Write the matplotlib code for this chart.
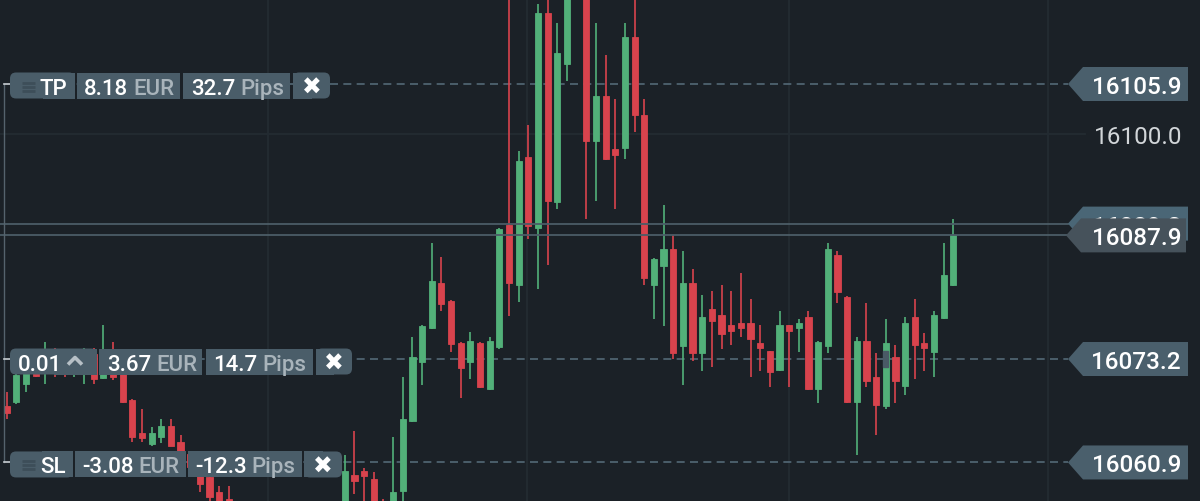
import matplotlib
matplotlib.use("Agg")
import matplotlib.pyplot as plt
from matplotlib.patches import FancyBboxPatch, Polygon, Rectangle
import numpy as np

# ---------------- data (prices) ----------------
opens = [16067.6, 16068.1, 16070.2, 16071.8, 16072.0, 16073.5, 16073.0, 16071.8, 16071.8, 16073.8,
         16070.9, 16074.4, 16072.0, 16068.3, 16064.4, 16063.1, 16063.9, 16065.2, 16063.3, 16061.9,
         16060.1, 16059.2, 16057.4, 16056.5, 16054.8, 16053.5, 16052.0, 16052.8, 16051.0, 16050.2,
         16051.5, 16052.6, 16051.8, 16053.6, 16054.8, 16054.5, 16059.4, 16059.9, 16058.9, 16056.0,
         16055.0, 16057.5, 16065.8, 16072.8, 16076.9, 16082.2, 16080.1, 16075.1, 16072.8, 16075.1,
         16069.6, 16074.6, 16089.1, 16082.0, 16097.2, 16088.8, 16114.3, 16091.9, 16108.3, 16119.0,
         16117.5, 16099.1, 16104.5, 16098.2, 16098.3, 16111.5, 16102.2, 16082.0, 16084.3, 16086.3,
         16074.7, 16082.2, 16073.9, 16079.1, 16078.4, 16077.2, 16077.5, 16077.5, 16075.1, 16074.1,
         16071.9, 16077.2, 16076.9, 16078.2, 16069.6, 16074.7, 16085.6, 16080.6, 16068.1, 16075.3,
         16071.1, 16067.6, 16073.4, 16070.0, 16078.2, 16075.1, 16074.0, 16078.1, 16082.0]
highs = [16069.3, 16071.5, 16073.2, 16072.2, 16075.2, 16074.5, 16073.8, 16073.2, 16074.5, 16074.5,
         16077.2, 16075.2, 16072.2, 16068.4, 16067.2, 16065.1, 16066.1, 16066.1, 16064.2, 16062.3,
         16060.7, 16059.9, 16058.1, 16058.1, 16055.5, 16054.2, 16053.6, 16053.4, 16051.8, 16052.3,
         16053.4, 16053.5, 16054.5, 16055.6, 16055.8, 16061.8, 16064.6, 16060.2, 16059.8, 16056.5,
         16063.9, 16071.1, 16075.8, 16077.2, 16087.0, 16085.3, 16080.2, 16075.2, 16076.4, 16075.2,
         16075.8, 16088.8, 16117.0, 16097.9, 16101.0, 16115.4, 16117.0, 16113.2, 16119.0, 16120.0,
         16118.0, 16113.2, 16109.4, 16104.1, 16113.2, 16116.5, 16104.1, 16085.2, 16091.5, 16087.9,
         16086.0, 16083.9, 16080.8, 16081.3, 16082.0, 16081.3, 16083.4, 16080.3, 16077.2, 16074.2,
         16078.9, 16077.3, 16077.9, 16078.9, 16075.3, 16087.0, 16086.0, 16080.7, 16075.8, 16079.9,
         16073.9, 16077.9, 16074.9, 16078.2, 16080.3, 16076.3, 16078.9, 16087.0, 16089.8]
lows = [16066.1, 16067.8, 16069.3, 16071.1, 16070.2, 16071.1, 16071.1, 16071.1, 16070.2, 16070.2,
        16070.8, 16070.7, 16068.0, 16063.3, 16063.3, 16062.8, 16063.2, 16062.8, 16061.3, 16059.9,
        16057.4, 16056.0, 16054.8, 16054.2, 16052.8, 16051.3, 16051.2, 16050.3, 16049.5, 16049.6,
        16050.9, 16051.0, 16051.2, 16053.0, 16053.2, 16053.8, 16057.1, 16055.8, 16055.0, 16054.5,
        16054.5, 16055.5, 16065.7, 16070.1, 16076.8, 16078.9, 16074.0, 16068.6, 16070.8, 16069.8,
        16069.5, 16074.4, 16078.3, 16080.0, 16087.5, 16081.5, 16084.4, 16091.0, 16106.3, 16116.3,
        16089.8, 16092.0, 16096.9, 16091.0, 16097.0, 16100.2, 16082.0, 16077.9, 16077.1, 16073.2,
        16070.1, 16073.0, 16071.8, 16072.2, 16074.4, 16074.9, 16075.8, 16071.1, 16071.8, 16069.9,
        16071.8, 16069.9, 16074.0, 16069.5, 16068.0, 16073.9, 16079.9, 16068.0, 16061.8, 16069.9,
        16064.2, 16067.2, 16068.0, 16068.9, 16070.8, 16071.8, 16071.1, 16078.0, 16081.9]
closes = [16066.8, 16071.3, 16072.2, 16071.2, 16073.7, 16072.2, 16072.0, 16072.6, 16073.8, 16070.8,
          16074.1, 16071.1, 16068.1, 16063.9, 16063.8, 16064.4, 16065.2, 16062.9, 16061.5, 16060.4,
          16058.3, 16056.8, 16055.4, 16054.8, 16053.5, 16052.0, 16052.8, 16051.0, 16050.2, 16051.5,
          16052.6, 16051.8, 16053.6, 16054.8, 16054.0, 16059.9, 16058.7, 16059.3, 16055.5, 16055.2,
          16057.4, 16066.1, 16073.4, 16077.1, 16082.5, 16079.7, 16075.0, 16072.1, 16075.3, 16069.9,
          16075.3, 16088.7, 16082.2, 16096.7, 16089.0, 16114.3, 16092.0, 16109.6, 16118.0, 16117.0,
          16099.1, 16104.5, 16097.0, 16097.5, 16111.5, 16102.2, 16082.8, 16085.1, 16086.3, 16073.9,
          16082.2, 16073.9, 16078.2, 16077.7, 16076.2, 16076.5, 16076.9, 16075.6, 16074.5, 16071.6,
          16077.2, 16076.5, 16077.5, 16069.6, 16075.2, 16086.3, 16081.2, 16068.1, 16075.3, 16070.6,
          16067.7, 16075.1, 16070.6, 16077.5, 16074.9, 16074.5, 16078.4, 16083.2, 16087.9]

tp_price = 16105.9
entry_price = 16073.2
sl_price = 16060.9
ask_price = 16089.3
bid_price = 16087.9
grid_price = 16100.0
entry_candle = 91
vgrid_x = [27.05, 53.85, 80.95, 107.8]

tp_texts = ["TP", "8.18", "EUR", "32.7", "Pips"]
entry_texts = ["0.01", "3.67", "EUR", "14.7", "Pips"]
sl_texts = ["SL", "-3.08", "EUR", "-12.3", "Pips"]

# ---------------- style ----------------
BG = "#1b2127"
GRID = "#232b32"
UP = "#52b079"
DN = "#d8434d"
BOX = "#4a5d69"
DASH = "#536876"
GREYTXT = "#a9b4bb"
FONT = ["Roboto", "DejaVu Sans"]

W, H = 1200, 502
fig = plt.figure(figsize=(W / 100, H / 100), dpi=100)
fig.patch.set_facecolor(BG)
ax = fig.add_axes([0, 0, 1, 1])
ax.set_facecolor(BG)
ax.set_xlim(-0.694, 123.53)
ax.set_ylim(16056.317, 16116.007)
ax.axis("off")

n = len(opens)
x = np.arange(n)
o = np.array(opens); c = np.array(closes); hi = np.array(highs); lo = np.array(lows)
up = c >= o
cols = np.where(up, UP, DN)

# grid
for gx in vgrid_x:
    ax.axvline(gx, color=GRID, lw=1.3, zorder=0)
ax.axhline(grid_price, xmin=0, xmax=1085 / W, color=GRID, lw=1.3, zorder=0)

# candles
ax.vlines(x, lo, hi, colors=cols, lw=1.2, zorder=2)
bh = np.abs(c - o)
ax.bar(x, bh, bottom=np.minimum(o, c), width=0.64, color=cols, edgecolor=cols,
       linewidth=0.6, zorder=3)

# entry marker block
ax.add_patch(Rectangle((entry_candle - 0.25, entry_price - 0.95), 0.5, 1.9,
                       color="#4a5a66", zorder=4))

# price lines
dash = (0, (4.8, 3.2))
for p in (tp_price, entry_price, sl_price):
    ax.axhline(p, xmin=10 / W, xmax=1068 / W, color=DASH, lw=1.2, ls=dash, zorder=1)
for p in (ask_price, bid_price):
    ax.axhline(p, xmin=0, xmax=1068 / W, color="#4b5c67", lw=1.3, zorder=5)

fig.canvas.draw()


def py(price):
    return H - ax.transData.transform((0, price))[1]


# overlay in pixel coords
ov = fig.add_axes([0, 0, 1, 1])
ov.set_xlim(0, W)
ov.set_ylim(H, 0)
ov.axis("off")
ov.patch.set_alpha(0)

# left bracket
y_tp, y_en, y_sl = py(tp_price), py(entry_price), py(sl_price)
ov.plot([3.5, 3.5], [y_tp, y_sl], color="#55636d", lw=1.0, zorder=5)
for yy in (y_tp, y_en, y_sl):
    ov.plot([3.5, 10], [yy, yy], color="#c9cfd3", lw=1.2, zorder=5)


def seg(x0, x1, yc, left_round=False, right_round=False, h=26):
    y0 = yc - h / 2
    r = 6
    if left_round or right_round:
        ov.add_patch(FancyBboxPatch((x0 + r, y0 + r), x1 - x0 - 2 * r, h - 2 * r,
                                    boxstyle=f"round,pad={r}", fc=BOX, ec="none", zorder=10))
        if not left_round:
            ov.add_patch(Rectangle((x0, y0), (x1 - x0) / 2, h, fc=BOX, ec="none", zorder=10))
        if not right_round:
            ov.add_patch(Rectangle((x0 + (x1 - x0) / 2, y0), (x1 - x0) / 2, h, fc=BOX,
                                   ec="none", zorder=10))
    else:
        ov.add_patch(Rectangle((x0, y0), x1 - x0, h, fc=BOX, ec="none", zorder=10))


def txt(xx, yc, s, color="white", size=16, ha="left", weight="medium"):
    ov.text(xx, yc, s, color=color, fontsize=size, ha=ha, va="center_baseline",
            family=FONT, zorder=12, weight=weight)


def handle(x0, yc):
    for dy in (-4, 0, 4):
        ov.plot([x0, x0 + 13], [yc + dy, yc + dy], color="#3d4e59", lw=2.0,
                solid_capstyle="butt", zorder=11)


def close_x(xc, yc):
    ov.text(xc, yc + 1, "\u2716", color="white", fontsize=17, ha="center", va="center",
            family=["DejaVu Sans"], zorder=12)


# TP row
yc = y_tp + 1.5
seg(10, 75, yc, left_round=True)
seg(77, 180, yc)
seg(183, 290, yc)
seg(293, 330, yc, right_round=True)
handle(22, yc + 1)
txt(40, yc, tp_texts[0])
txt(84, yc, tp_texts[1])
txt(133, yc, tp_texts[2], GREYTXT)
txt(191, yc, tp_texts[3])
txt(240, yc, tp_texts[4], GREYTXT)
close_x(311.5, yc)

# entry row
yc = y_en + 2.5
seg(10, 97, yc, left_round=True)
seg(99, 202, yc)
seg(206, 313, yc)
seg(316, 352, yc, right_round=True)
txt(18, yc, entry_texts[0])
ov.plot([68, 75, 82], [yc + 3, yc - 4, yc + 3], color="#b7c0c6", lw=2.6, zorder=12,
        solid_capstyle="butt")
txt(107, yc, entry_texts[1])
txt(156, yc, entry_texts[2], GREYTXT)
txt(213, yc, entry_texts[3])
txt(262, yc, entry_texts[4], GREYTXT)
close_x(334, yc)

# SL row
yc = y_sl + 2
seg(10, 73, yc, left_round=True)
seg(75, 186, yc)
seg(188, 302, yc)
seg(304, 342, yc, right_round=True)
handle(22, yc + 1)
txt(40, yc, sl_texts[0])
txt(82, yc, sl_texts[1])
txt(138, yc, sl_texts[2], GREYTXT)
txt(195, yc, sl_texts[3])
txt(251, yc, sl_texts[4], GREYTXT)
close_x(323, yc)


# right price tags
def tag(price, color, tip=1068, right=1188, h=34, z=10):
    yc = py(price)
    pts = [(tip, yc), (tip + 15, yc - h / 2), (right, yc - h / 2), (right, yc + h / 2),
           (tip + 15, yc + h / 2)]
    ov.add_patch(Polygon(pts, closed=True, fc=color, ec="none", zorder=z))
    ov.text(1181, yc, f"{price:.1f}", color="white", fontsize=17.5, ha="right",
            va="center_baseline", family=FONT, zorder=z + 1, weight="medium")


tag(tp_price, "#4a5f6c")
tag(entry_price, "#4a5f6c")
tag(sl_price, "#4a5f6c")
tag(ask_price, "#4a6676", z=10)
tag(bid_price, "#46525b", tip=1066, right=1186, z=20)
ov.text(1182, py(grid_price), f"{grid_price:.1f}", color="#d2d6d9", fontsize=17.5,
        ha="right", va="center_baseline", family=FONT, zorder=11)

fig.savefig("out.png", dpi=100, facecolor=BG)
